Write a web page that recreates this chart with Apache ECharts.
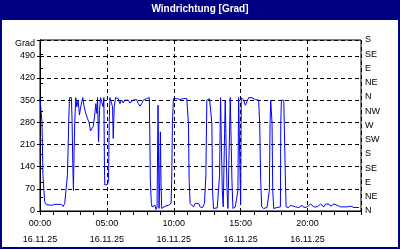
<!DOCTYPE html>
<html><head><meta charset="utf-8">
<script src="https://cdn.jsdelivr.net/npm/echarts@6/dist/echarts.min.js"></script>
<style>html,body{margin:0;padding:0;background:#fff}#c{width:400px;height:250px}</style>
</head><body><div id="c"></div>
<script>
const titleText = 'Windrichtung [Grad]';
const leftAxisName = 'Grad';
const dateLabel = '16.11.25';
const compassLabels = ['N','NE','E','SE','S','SW','W','NW','N','NE','E','SE','S'];
// time of day in hours
const hours = [
 0.00,0.10,0.15,0.22,0.35,0.475,0.60,0.85,1.10,1.35,1.475,1.60,1.725,1.85,1.975,
 2.05,2.15,2.20,2.35,2.40,2.45,2.50,2.55,2.60,2.675,2.75,2.85,2.95,3.025,3.125,3.20,
 3.30,3.425,3.55,3.675,3.775,3.875,3.975,4.075,4.175,4.25,4.30,4.375,4.45,4.525,4.65,
 4.725,4.775,4.825,4.85,4.95,5.05,5.125,5.175,5.225,5.35,5.425,5.475,5.55,5.65,5.85,5.975,
 6.10,6.225,6.35,6.475,6.60,6.725,6.85,6.975,7.10,7.225,7.35,7.475,7.60,7.725,7.85,7.975,
 8.10,8.175,8.20,8.25,8.325,8.375,8.425,8.50,8.60,8.675,8.75,8.825,8.90,8.95,9.00,9.05,9.10,
 9.225,9.35,9.475,9.60,9.725,9.80,9.85,9.90,9.975,10.10,10.225,10.35,10.475,10.60,10.725,
 10.85,10.975,11.05,11.10,11.15,11.225,11.35,11.475,11.60,11.725,11.85,11.975,12.05,12.15,
 12.30,12.40,12.475,12.55,12.675,12.80,12.85,12.90,12.975,13.10,13.25,13.35,13.425,13.50,
 13.55,13.625,13.70,13.75,13.80,13.85,13.90,13.975,14.05,14.15,14.225,14.30,14.35,14.425,
 14.60,14.725,14.80,14.85,14.90,14.95,15.00,15.05,15.10,15.225,15.35,15.475,15.60,15.725,
 15.85,15.975,16.10,16.225,16.35,16.425,16.50,16.575,16.725,16.85,16.975,17.10,17.15,17.20,
 17.25,17.30,17.35,17.40,17.475,17.60,17.725,17.85,17.975,18.00,18.05,18.10,18.225,18.30,
 18.35,18.40,18.475,18.60,18.725,18.85,19.10,19.35,19.475,19.60,19.725,19.85,19.975,20.10,
 20.225,20.35,20.475,20.60,20.725,20.85,20.975,21.10,21.225,21.35,21.475,21.60,21.725,21.85,
 21.975,22.10,22.225,22.35,22.475,22.725,22.975,23.225,23.475,23.85
];
// wind direction in degrees
const degrees = [
 355,358,280,113,29,20,18,18,21,21,16,21,14,24,29,
 113,280,358,358,280,150,65,192,280,358,329,350,303,324,345,358,
 329,308,292,279,253,255,266,297,339,308,358,218,318,358,358,
 329,358,113,82,82,84,97,279,358,358,329,229,329,358,355,339,
 350,341,350,347,350,341,345,350,345,352,339,331,339,350,350,355,
 359,358,276,97,24,13,18,8,18,5,13,334,8,87,250,87,8,
 11,15,13,18,15,24,97,276,355,358,355,350,352,350,355,
 352,355,355,276,97,24,18,13,24,18,24,13,18,11,
 24,113,350,352,355,350,276,66,8,8,10,8,113,358,
 358,66,13,13,245,350,350,76,8,8,358,358,97,8,
 13,8,66,358,358,358,20,358,358,350,334,345,358,355,
 358,355,352,355,350,276,97,13,8,8,11,13,66,276,
 350,350,276,66,8,8,11,8,13,276,350,350,350,350,
 97,13,18,11,18,15,13,11,8,18,11,8,13,15,
 22,18,13,18,13,18,22,18,13,22,24,22,15,18,
 22,24,18,15,13,13,13,15,11,11
];

const navy = '#000080';
const font = 'Liberation Sans, Arial, sans-serif';
const pad2 = n => (n < 10 ? '0' : '') + n;
const data = hours.map((h, i) => [h, degrees[i]]);

const chart = echarts.init(document.getElementById('c'), null, {renderer: 'canvas'});
chart.setOption({
  animation: false,
  backgroundColor: '#ffffff',
  graphic: [
    {type: 'rect', z: -10, shape: {x: 0, y: 0, width: 400, height: 20}, style: {fill: navy}},
    {type: 'rect', z: -10, shape: {x: 1, y: 1, width: 398, height: 247}, style: {fill: 'none', stroke: navy, lineWidth: 2}}
  ],
  title: {
    text: titleText, left: 'center', top: 4, padding: 0,
    textStyle: {color: '#ffffff', fontWeight: 'bold', fontSize: 10, fontFamily: font}
  },
  grid: {left: 40, top: 40, width: 321, height: 171, show: true, borderColor: '#000', borderWidth: 1, backgroundColor: '#fff'},
  xAxis: [
    {
      type: 'value', min: 0, max: 24, interval: 1,
      axisLine: {show: true, lineStyle: {color: '#000', width: 1}},
      axisTick: {show: true, length: 4, lineStyle: {color: '#000'}},
      axisLabel: {
        margin: 5, fontSize: 9, fontFamily: font, color: '#000', lineHeight: 16,
        formatter: v => (v % 5 === 0 && v < 24) ? pad2(v) + ':00\n' + dateLabel : ''
      },
      splitLine: {show: false}
    },
    {
      type: 'value', min: 0, max: 24, interval: 5, position: 'bottom',
      axisLine: {show: false}, axisTick: {show: false}, axisLabel: {show: false},
      splitLine: {show: true, lineStyle: {color: '#000', type: [4, 3], width: 1}}
    }
  ],
  yAxis: [
    {
      type: 'value', min: 0, max: 540, interval: 70, position: 'left',
      axisLine: {show: true, lineStyle: {color: '#000'}},
      axisTick: {show: true, length: 3, lineStyle: {color: '#000'}},
      axisLabel: {
        margin: 5, fontSize: 9, fontFamily: font, color: '#000',
        formatter: v => v === 540 ? '{g|' + leftAxisName + '}' : String(v),
        rich: {g: {fontSize: 9, fontFamily: font, color: '#000', padding: [8, 0, 0, 0]}}
      },
      splitLine: {show: true, lineStyle: {color: '#000', type: [4, 3], width: 1}}
    },
    {
      type: 'value', min: 0, max: 540, interval: 45, position: 'right',
      axisLine: {show: true, lineStyle: {color: '#000'}},
      axisTick: {show: true, length: 3, lineStyle: {color: '#000'}},
      axisLabel: {
        margin: 4, fontSize: 9, fontFamily: font, color: '#000',
        formatter: v => compassLabels[Math.round(v / 45)] || ''
      },
      splitLine: {show: false}
    }
  ],
  series: [{
    type: 'line', xAxisIndex: 0, yAxisIndex: 0, data: data,
    showSymbol: false, symbol: 'none', smooth: false,
    lineStyle: {color: '#0000ff', width: 1}
  }]
});
</script>
</body></html>
